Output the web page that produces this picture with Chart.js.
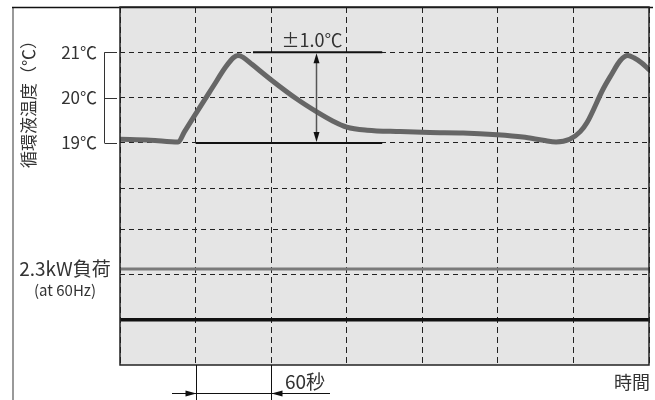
<!DOCTYPE html>
<html>
<head>
<meta charset="utf-8">
<script src="https://cdn.jsdelivr.net/npm/chart.js@4/dist/chart.umd.min.js"></script>
<style>
  html, body { margin: 0; padding: 0; background: #fff; }
  canvas { display: block; }
</style>
</head>
<body>
<canvas id="tempChart" width="655" height="400"></canvas>
<script>
// ── DATA ──
// x = time in minutes (one grid column = 60 s), y = circulating fluid temp (℃)
const minutes = [0, 0.4, 0.77, 0.85, 1.23, 1.40, 1.50, 1.56, 1.63, 1.75, 2.01, 2.34, 2.61, 2.82, 3.0, 3.27, 3.71, 4.1, 4.54, 4.99, 5.33, 5.6, 5.77, 5.95, 6.09, 6.18, 6.39, 6.50, 6.62, 6.72, 6.80, 6.90, 7.0];
const tempC   = [19.08, 19.06, 19.02, 19.24, 20.24, 20.68, 20.88, 20.93, 20.89, 20.73, 20.38, 19.97, 19.68, 19.48, 19.35, 19.28, 19.25, 19.23, 19.22, 19.18, 19.13, 19.06, 19.02, 19.08, 19.25, 19.45, 20.18, 20.50, 20.82, 20.93, 20.88, 20.77, 20.62];

const gridTemps  = [21, 20, 19, 18, 17.1, 16.1, 15.1];
const tempTicks  = [21, 20, 19];
const tempLabels = ['21℃', '20℃', '19℃'];

const loadLevel = 16.22;   // 2.3kW load trace
const baseLevel = 15.1;    // zero line
const bandHi = 21, bandLo = 19;
const bandText = '±1.0℃';
const intervalStart = 1, intervalEnd = 2;   // 60 s marker

const FONT = '"Noto Sans CJK JP", "Noto Sans", sans-serif';

function flatLine(level) {
  return [{ x: 0, y: level }, { x: 7, y: level }];
}

function arrowHead(ctx, x, y, dir, len, half) {
  // dir: 'left' | 'right' | 'up' | 'down' ; tip at (x, y)
  ctx.beginPath();
  ctx.moveTo(x, y);
  if (dir === 'right') { ctx.lineTo(x - len, y - half); ctx.lineTo(x - len, y + half); }
  if (dir === 'left')  { ctx.lineTo(x + len, y - half); ctx.lineTo(x + len, y + half); }
  if (dir === 'up')    { ctx.lineTo(x - half, y + len); ctx.lineTo(x + half, y + len); }
  if (dir === 'down')  { ctx.lineTo(x - half, y - len); ctx.lineTo(x + half, y - len); }
  ctx.closePath();
  ctx.fill();
}

const plotBackground = {
  id: 'plotBackground',
  beforeDraw(chart) {
    const { ctx, chartArea: a } = chart;
    ctx.save();
    ctx.fillStyle = '#e5e5e5';
    ctx.fillRect(a.left, a.top, a.right - a.left, a.bottom - a.top);
    ctx.restore();
  }
};

const decorations = {
  id: 'decorations',
  afterDraw(chart) {
    const { ctx, chartArea: a, scales: { x, y } } = chart;
    ctx.save();

    // outer frame (left + top)
    ctx.strokeStyle = '#777';
    ctx.lineWidth = 1.5;
    ctx.beginPath(); ctx.moveTo(13, 7); ctx.lineTo(13, 400); ctx.stroke();
    ctx.strokeStyle = '#111';
    ctx.beginPath(); ctx.moveTo(12, 7.5); ctx.lineTo(653, 7.5); ctx.stroke();

    // plot frame
    ctx.strokeStyle = '#222';
    ctx.lineWidth = 1.5;
    ctx.strokeRect(a.left, a.top, a.right - a.left, a.bottom - a.top);

    // temperature bracket
    ctx.strokeStyle = '#333';
    ctx.lineWidth = 1;
    const bx = 104.5;
    ctx.beginPath();
    ctx.moveTo(bx, y.getPixelForValue(tempTicks[0]));
    ctx.lineTo(bx, y.getPixelForValue(tempTicks[tempTicks.length - 1]));
    tempTicks.forEach(t => {
      const py = Math.round(y.getPixelForValue(t)) + 0.5;
      ctx.moveTo(bx, py); ctx.lineTo(117, py);
    });
    ctx.stroke();

    ctx.fillStyle = '#333';
    ctx.font = '17px ' + FONT;
    ctx.textAlign = 'right';
    ctx.textBaseline = 'middle';
    tempTicks.forEach((t, i) => ctx.fillText(tempLabels[i], 97, y.getPixelForValue(t)));

    // y title
    ctx.save();
    ctx.translate(29, 100);
    ctx.rotate(-Math.PI / 2);
    ctx.textAlign = 'center';
    ctx.font = '17px ' + FONT;
    ctx.fillText('循環液温度（℃）', 0, 0);
    ctx.restore();

    // ±1.0℃ band
    ctx.strokeStyle = '#111';
    ctx.lineWidth = 2;
    const bandTop = y.getPixelForValue(bandHi);
    const bandBot = y.getPixelForValue(bandLo);
    ctx.beginPath();
    ctx.moveTo(x.getPixelForValue(1.76), bandTop); ctx.lineTo(x.getPixelForValue(3.47), bandTop);
    ctx.moveTo(x.getPixelForValue(1.0), bandBot);  ctx.lineTo(x.getPixelForValue(3.47), bandBot);
    ctx.stroke();

    const ax = Math.round(x.getPixelForValue(2.59)) + 0.5;
    ctx.strokeStyle = '#555';
    ctx.lineWidth = 1.5;
    ctx.beginPath(); ctx.moveTo(ax, bandTop + 6); ctx.lineTo(ax, bandBot - 6); ctx.stroke();
    ctx.fillStyle = '#111';
    arrowHead(ctx, ax, bandTop + 1, 'up', 10, 3);
    arrowHead(ctx, ax, bandBot - 1, 'down', 10, 3);

    ctx.fillStyle = '#333';
    ctx.font = '18px ' + FONT;
    ctx.textAlign = 'center';
    ctx.fillText(bandText, 312, 40);

    // load labels
    ctx.font = '19px ' + FONT;
    ctx.fillText('2.3kW負荷', 65, y.getPixelForValue(loadLevel));
    ctx.font = '15px ' + FONT;
    ctx.fillText('(at 60Hz)', 65, y.getPixelForValue(loadLevel) + 21);

    // 60 s interval marker
    const x1 = Math.round(x.getPixelForValue(intervalStart)) + 0.5;
    const x2 = Math.round(x.getPixelForValue(intervalEnd)) + 0.5;
    ctx.strokeStyle = '#111';
    ctx.lineWidth = 1;
    ctx.beginPath();
    ctx.moveTo(x1, a.bottom); ctx.lineTo(x1, 400);
    ctx.moveTo(x2, a.bottom); ctx.lineTo(x2, 400);
    ctx.moveTo(172, 393.5); ctx.lineTo(330, 393.5);
    ctx.stroke();
    ctx.fillStyle = '#111';
    arrowHead(ctx, x1, 393.5, 'right', 11, 3);
    arrowHead(ctx, x2, 393.5, 'left', 11, 3);

    ctx.fillStyle = '#333';
    ctx.font = '19px ' + FONT;
    ctx.textAlign = 'left';
    ctx.fillText('60秒', 285, 382);
    ctx.textAlign = 'right';
    ctx.font = '18px ' + FONT;
    ctx.fillText('時間', 650, 382);

    ctx.restore();
  }
};

new Chart(document.getElementById('tempChart'), {
  type: 'line',
  data: {
    datasets: [
      {
        data: minutes.map((m, i) => ({ x: m, y: tempC[i] })),
        borderColor: '#666',
        borderWidth: 5,
        pointRadius: 0,
        cubicInterpolationMode: 'monotone',
        borderCapStyle: 'round',
        borderJoinStyle: 'round'
      },
      { data: flatLine(loadLevel), borderColor: '#7a7a7a', borderWidth: 3, pointRadius: 0 },
      { data: flatLine(baseLevel), borderColor: '#111', borderWidth: 3.5, pointRadius: 0 }
    ]
  },
  options: {
    responsive: false,
    devicePixelRatio: 1,
    animation: false,
    layout: { padding: { left: 120, right: 6, top: 7, bottom: 35 } },
    plugins: { legend: { display: false }, tooltip: { enabled: false } },
    scales: {
      x: {
        type: 'linear', min: 0, max: 7,
        ticks: { display: false, stepSize: 1 },
        grid: { color: '#222', lineWidth: 1, drawTicks: false },
        border: { display: false, dash: [6, 4] }
      },
      y: {
        type: 'linear', min: 14.1, max: 22,
        afterBuildTicks: (scale) => { scale.ticks = gridTemps.map(v => ({ value: v })); },
        ticks: { display: false },
        grid: { color: '#222', lineWidth: 1, drawTicks: false },
        border: { display: false, dash: [5, 4] }
      }
    }
  },
  plugins: [plotBackground, decorations]
});
</script>
</body>
</html>
